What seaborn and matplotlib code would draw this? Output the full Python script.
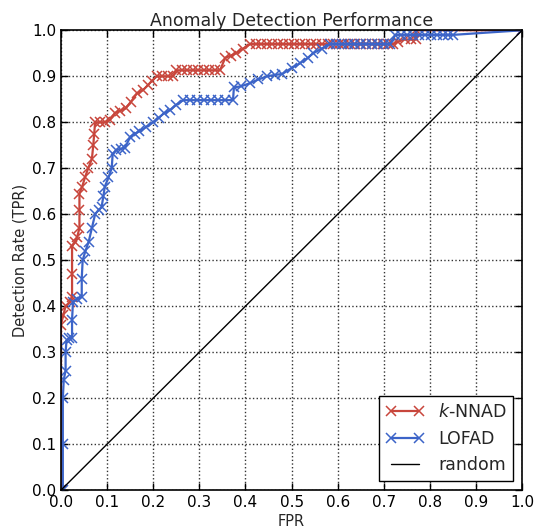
import matplotlib
matplotlib.use("Agg")
import matplotlib.pyplot as plt
import seaborn as sns

# k-NNAD ROC points (FPR, TPR)
knn_fpr = [0.0, 0.0, 0.005, 0.01, 0.02, 0.024, 0.024, 0.024, 0.03, 0.035,
           0.04, 0.04, 0.04, 0.046, 0.052, 0.059, 0.067, 0.07, 0.072, 0.074,
           0.085, 0.095, 0.106, 0.117, 0.128, 0.14, 0.152, 0.165, 0.178, 0.188,
           0.197, 0.208, 0.22, 0.232, 0.243, 0.25, 0.262, 0.274, 0.286, 0.298,
           0.31, 0.322, 0.334, 0.345, 0.356, 0.368, 0.38, 0.395, 0.41, 0.422,
           0.434, 0.446, 0.458, 0.47, 0.482, 0.494, 0.506, 0.518, 0.53, 0.542,
           0.554, 0.566, 0.578, 0.59, 0.602, 0.614, 0.626, 0.638, 0.65, 0.662,
           0.674, 0.686, 0.698, 0.71, 0.72, 0.73, 0.745, 0.76, 0.77, 0.77, 1.0]
knn_tpr = [0.0, 0.36, 0.38, 0.40, 0.41, 0.42, 0.47, 0.53, 0.54, 0.55,
           0.57, 0.61, 0.645, 0.66, 0.68, 0.70, 0.72, 0.75, 0.775, 0.80,
           0.80, 0.80, 0.805, 0.82, 0.825, 0.83, 0.845, 0.863, 0.87, 0.88,
           0.89, 0.90, 0.90, 0.90, 0.90, 0.913, 0.913, 0.913, 0.913, 0.913,
           0.913, 0.913, 0.913, 0.913, 0.94, 0.945, 0.95, 0.96, 0.97, 0.97,
           0.97, 0.97, 0.97, 0.97, 0.97, 0.97, 0.97, 0.97, 0.97, 0.97,
           0.97, 0.97, 0.97, 0.97, 0.97, 0.97, 0.97, 0.97, 0.97, 0.97,
           0.97, 0.97, 0.97, 0.97, 0.97, 0.975, 0.98, 0.98, 0.98, 1.0, 1.0]

# LOFAD ROC points
lof_fpr = [0.0, 0.004, 0.004, 0.004, 0.006, 0.01, 0.01, 0.012, 0.018, 0.024,
           0.024, 0.026, 0.035, 0.045, 0.045, 0.047, 0.053, 0.06, 0.067, 0.074,
           0.082, 0.088, 0.092, 0.095, 0.103, 0.11, 0.112, 0.12, 0.13, 0.139,
           0.15, 0.16, 0.17, 0.185, 0.2, 0.212, 0.224, 0.236, 0.25, 0.265,
           0.28, 0.295, 0.31, 0.325, 0.34, 0.355, 0.373, 0.375, 0.39, 0.41,
           0.428, 0.447, 0.465, 0.48, 0.5, 0.518, 0.535, 0.547, 0.565, 0.583,
           0.596, 0.609, 0.622, 0.635, 0.648, 0.661, 0.674, 0.687, 0.7, 0.714,
           0.725, 0.738, 0.751, 0.764, 0.777, 0.79, 0.803, 0.816, 0.829, 0.84,
           0.85, 1.0]
lof_tpr = [0.0, 0.0, 0.1, 0.2, 0.24, 0.26, 0.3, 0.326, 0.33, 0.33,
           0.37, 0.41, 0.415, 0.42, 0.46, 0.50, 0.52, 0.54, 0.57, 0.60,
           0.61, 0.615, 0.64, 0.66, 0.68, 0.70, 0.73, 0.74, 0.742, 0.745,
           0.768, 0.775, 0.78, 0.79, 0.80, 0.81, 0.82, 0.826, 0.838, 0.848,
           0.848, 0.848, 0.848, 0.848, 0.848, 0.848, 0.848, 0.876, 0.878, 0.885,
           0.893, 0.90, 0.903, 0.905, 0.918, 0.928, 0.94, 0.95, 0.96, 0.97,
           0.97, 0.97, 0.97, 0.97, 0.97, 0.97, 0.97, 0.97, 0.97, 0.97,
           0.99, 0.99, 0.99, 0.99, 0.99, 0.99, 0.99, 0.99, 0.99, 0.99,
           0.99, 1.0]

rand_fpr = [0.0, 1.0]
rand_tpr = [0.0, 1.0]

ticks = [0.0, 0.1, 0.2, 0.3, 0.4, 0.5, 0.6, 0.7, 0.8, 0.9, 1.0]

sns.set_theme(style="white")
plt.rcParams["font.family"] = ["DejaVu Sans"]

fig = plt.figure(figsize=(5.35, 5.31), dpi=100)
ax = fig.add_axes([0.114, 0.077, 0.862, 0.866])

sns.lineplot(x=knn_fpr, y=knn_tpr, sort=False, estimator=None, ax=ax,
             color="#c8463c", linewidth=1.6, marker="x", markersize=7,
             markeredgewidth=1.1, markeredgecolor="#c8463c",
             label="$k$-NNAD")
sns.lineplot(x=lof_fpr, y=lof_tpr, sort=False, estimator=None, ax=ax,
             color="#3c64c8", linewidth=1.6, marker="x", markersize=7,
             markeredgewidth=1.1, markeredgecolor="#3c64c8",
             label="LOFAD")
sns.lineplot(x=rand_fpr, y=rand_tpr, sort=False, estimator=None, ax=ax,
             color="black", linewidth=1.0, label="random")

ax.set_xlim(0, 1)
ax.set_ylim(0, 1)
ax.set_xticks(ticks)
ax.set_yticks(ticks)
ax.set_xticklabels([f"{t:.1f}" for t in ticks])
ax.set_yticklabels([f"{t:.1f}" for t in ticks])
ax.tick_params(direction="in", length=5, width=1, colors="black",
               labelsize=11, top=True, right=True, bottom=True, left=True)
ax.grid(True, color="#333333", linestyle=":", linewidth=1)
for spine in ax.spines.values():
    spine.set_color("black")
    spine.set_linewidth(1.2)

ax.set_title("Anomaly Detection Performance", fontsize=12.5, pad=3)
ax.set_xlabel("FPR", fontsize=10.5, labelpad=3)
ax.set_ylabel("Detection Rate (TPR)", fontsize=10.5, labelpad=3)

leg = ax.legend(loc="lower right", numpoints=2, fontsize=12.5, frameon=True,
                fancybox=False, edgecolor="black", framealpha=1,
                handlelength=2.2, borderpad=0.4, labelspacing=0.5)
leg.get_frame().set_linewidth(1)

fig.savefig("out.png", dpi=100)
